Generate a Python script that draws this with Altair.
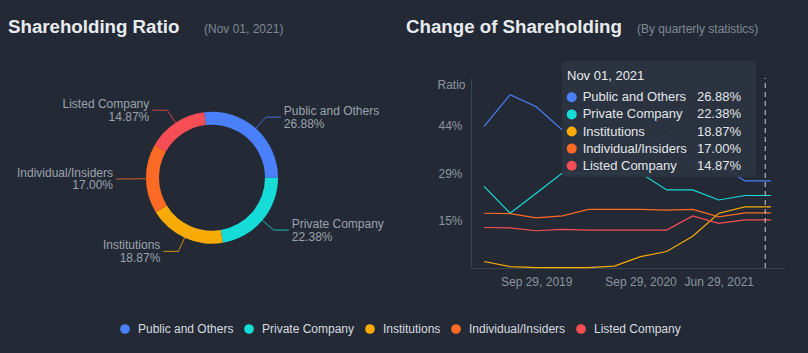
import math
import altair as alt
import pandas as pd

# ---------------- data ----------------
names = ["Public and Others", "Private Company", "Institutions",
         "Individual/Insiders", "Listed Company"]
colors = ["#4a80fb", "#15dcd7", "#f8ab05", "#fd6a26", "#f74e55"]
shares = [26.88, 22.38, 18.87, 17.00, 14.87]

dates = ["Mar 29, 2019", "Jun 29, 2019", "Sep 29, 2019", "Dec 29, 2019",
         "Mar 29, 2020", "Jun 29, 2020", "Sep 29, 2020", "Dec 29, 2020",
         "Mar 29, 2021", "Jun 29, 2021", "Sep 29, 2021", "Nov 01, 2021"]
shown_dates = ["Sep 29, 2019", "Sep 29, 2020", "Jun 29, 2021"]

public = [43.7, 53.5, 49.8, 42.6, 41.0, 40.0, 38.0, 41.0, 32.4, 32.2, 26.88, 26.88]
private = [25.2, 16.9, 23.1, 29.3, 29.3, 29.3, 29.3, 24.1, 24.1, 21.0, 22.38, 22.38]
institutions = [2.0, 0.4, 0.1, 0.1, 0.1, 0.6, 3.5, 5.1, 9.8, 16.9, 18.87, 18.87]
individual = [16.9, 16.8, 15.5, 16.1, 18.1, 18.1, 18.1, 17.9, 18.1, 15.8, 17.00, 17.00]
listed = [12.5, 12.4, 11.5, 11.9, 11.7, 11.7, 11.7, 11.7, 16.1, 13.8, 14.87, 14.87]

y_ticks = [14.67, 29.33, 44.0]
y_max = 58.67

title_left = "Shareholding Ratio"
sub_left = "(Nov 01, 2021)"
title_right = "Change of Shareholding"
sub_right = "(By quarterly statistics)"
y_title = "Ratio"

# ---------------- styles ----------------
W, H = 808, 353
BG = "#232a35"
FONT = "Liberation Sans"
AXC = "#3a4451"
LBL = "#8b94a1"
PIE_LBL = "#9ba2ad"

# plot area of the line panel
PX0, PX1, PY0, PY1 = 471, 784, 78, 268
# pie geometry
CX, CY, R_OUT, R_IN, R_EXT, L2 = 212, 177.7, 66, 53, 81, 15

pie_df = pd.DataFrame({"name": names, "value": shares, "idx": list(range(len(names)))})
series = [public, private, institutions, individual, listed]
line_df = pd.DataFrame([
    {"name": n, "date": d, "t": j, "value": v}
    for n, s in zip(names, series)
    for j, (d, v) in enumerate(zip(dates, s))
])
one = pd.DataFrame({"k": [0]})

color_scale = alt.Scale(domain=names, range=colors)
LEGEND = alt.Legend(
    orient="none", legendX=119, legendY=323, direction="horizontal",
    title=None, symbolType="circle", symbolSize=95, symbolStrokeWidth=0,
    symbolOpacity=1,
    labelColor="#d8dbe0", labelFont=FONT, labelFontSize=12,
    labelOffset=7, columnPadding=9, padding=0)


def col():
    return alt.Color("name:N", scale=color_scale, legend=LEGEND)


total = sum(shares)
start = math.pi / 2 - 2 * math.pi * shares[0] / total + 2 * math.pi

# ---------------- header ----------------
def htext(txt, x, size, color, weight="normal"):
    return alt.Chart(one).mark_text(
        text=txt, align="left", baseline="alphabetic", font=FONT,
        fontSize=size, fontWeight=weight, color=color
    ).encode(x=alt.value(x), y=alt.value(33))

headers = [
    htext(title_left, 8, 18.7, "#e8ebef", "bold"),
    htext(sub_left, 204, 12, "#7f8895"),
    htext(title_right, 406, 18.7, "#e8ebef", "bold"),
    htext(sub_right, 637, 12, "#7f8895"),
]

# ---------------- pie ----------------
arcs = alt.Chart(pie_df).mark_arc(outerRadius=R_OUT, innerRadius=R_IN).encode(
    theta=alt.Theta("value:Q", stack=True,
                    scale=alt.Scale(range=[start, start + 2 * math.pi])),
    order=alt.Order("idx:Q"),
    color=col(),
    x=alt.value(CX), y=alt.value(CY),
)

base_pie = alt.Chart(pie_df).transform_window(
    cum="sum(value)", sort=[alt.SortField("idx")], frame=[None, 0]
).transform_joinaggregate(
    tot="sum(value)"
).transform_calculate(
    a=f"{start} + 2*PI*(datum.cum - datum.value/2)/datum.tot"
).transform_calculate(
    s="sin(datum.a) >= 0 ? 1 : -1"
)

px_scale = alt.Scale(domain=[0, W], range=[0, W], zero=False, nice=False)
py_scale = alt.Scale(domain=[0, H], range=[0, H], zero=False, nice=False)

leaders = base_pie.transform_calculate(
    pts="[0, 1, 2]"
).transform_flatten(
    ["pts"], as_=["pt"]
).transform_calculate(
    r=f"datum.pt == 0 ? {R_OUT} : {R_EXT}"
).transform_calculate(
    lx=f"{CX} + datum.r*sin(datum.a) + (datum.pt == 2 ? datum.s*{L2} : 0)",
    ly=f"{CY} - datum.r*cos(datum.a)",
).mark_line(strokeWidth=1, opacity=0.8).encode(
    x=alt.X("lx:Q", scale=px_scale, axis=None),
    y=alt.Y("ly:Q", scale=py_scale, axis=None),
    detail="name:N",
    order=alt.Order("pt:Q"),
    color=col(),
)

lab_base = base_pie.transform_calculate(
    tx=f"{CX} + {R_EXT}*sin(datum.a) + datum.s*({L2} + 3)",
    ty=f"{CY} - {R_EXT}*cos(datum.a)",
    label="datum.name + '\\n' + format(datum.value, '.2f') + '%'",
)


def pie_labels(side, align):
    return lab_base.transform_filter(f"datum.s == {side}").mark_text(
        align=align, baseline="middle", lineBreak="\n", lineHeight=12.5,
        dy=-6, font=FONT, fontSize=12, color=PIE_LBL
    ).encode(
        x=alt.X("tx:Q", scale=px_scale, axis=None),
        y=alt.Y("ty:Q", scale=py_scale, axis=None),
        text="label:N",
    )

# ---------------- line chart ----------------
x_scale = alt.Scale(domain=dates, range=[PX0, PX1], padding=0.5)
y_scale = alt.Scale(domain=[0, y_max], range=[PY1, PY0], zero=False, nice=False)

shown_js = "[" + ",".join(f"'{d}'" for d in shown_dates) + "]"

lines = alt.Chart(line_df).mark_line(strokeWidth=1.2).encode(
    x=alt.X("date:O", scale=x_scale, axis=alt.Axis(
        title=None, labelAngle=0, ticks=False, grid=False, domainColor=AXC,
        labelColor=LBL, labelFont=FONT, labelFontSize=12, labelPadding=8,
        labelOverlap=False, labelFlush=False, offset=-(H - PY1),
        labelExpr=f"indexof({shown_js}, datum.label) >= 0 ? datum.label : ''")),
    y=alt.Y("value:Q", scale=y_scale, axis=alt.Axis(
        values=y_ticks, labelExpr="format(datum.value, '.0f') + '%'",
        ticks=False, grid=False, domainColor=AXC, labelColor=LBL,
        labelFont=FONT, labelFontSize=12, labelPadding=9, offset=-PX0,
        title=y_title, titleAngle=0, titleX=-20, titleY=84, titleAlign="center",
        titleBaseline="middle", titleColor=LBL, titleFont=FONT,
        titleFontSize=12, titleFontWeight="normal")),
    color=col(),
    order=alt.Order("t:Q"),
)

rule = alt.Chart(pd.DataFrame({"date": [dates[-1]]})).mark_rule(
    color="#c9cdd2", strokeDash=[5, 4], strokeWidth=1
).encode(
    x=alt.X("date:O", scale=x_scale, axis=None),
    y=alt.YDatum(0, type="quantitative", scale=y_scale, axis=None),
    y2=alt.Y2Datum(y_max),
)

# ---------------- tooltip box ----------------
tip_box = alt.Chart(one).mark_rect(
    fill="#2b3441", opacity=0.93, cornerRadius=3
).encode(x=alt.value(562), x2=alt.value(756), y=alt.value(61), y2=alt.value(177))

tip_title = alt.Chart(pd.DataFrame({"d": [dates[-1]]})).mark_text(
    align="left", baseline="middle", font=FONT, fontSize=13, color="#e9ecef"
).encode(x=alt.value(567), y=alt.value(75.5), text="d:N")

row_scale = alt.Scale(domain=[0, 4], range=[97.3, 165.7], zero=False, nice=False)

tip_dots = alt.Chart(pie_df).mark_circle(size=100, opacity=1).encode(
    x=alt.value(571.7),
    y=alt.Y("idx:Q", scale=row_scale, axis=None),
    color=col(),
)

tip_names = alt.Chart(pie_df).mark_text(
    align="left", baseline="middle", font=FONT, fontSize=13, color="#e3e6ea"
).encode(
    x=alt.value(582.7),
    y=alt.Y("idx:Q", scale=row_scale, axis=None),
    text="name:N",
)

tip_vals = alt.Chart(pie_df).transform_calculate(
    pct="format(datum.value, '.2f') + '%'"
).mark_text(
    align="right", baseline="middle", font=FONT, fontSize=13, color="#e3e6ea"
).encode(
    x=alt.value(741),
    y=alt.Y("idx:Q", scale=row_scale, axis=None),
    text="pct:N",
)

chart = alt.layer(
    *headers, arcs, leaders, pie_labels(1, "left"), pie_labels(-1, "right"),
    lines, rule, tip_box, tip_title, tip_dots, tip_names, tip_vals
).resolve_scale(
    x="independent", y="independent"
).properties(
    width=W, height=H, padding=0, background=BG,
    autosize=alt.AutoSizeParams(type="none"),
).configure_view(stroke=None)

chart.save("out.html", embed_options={"renderer": "svg", "actions": False})
